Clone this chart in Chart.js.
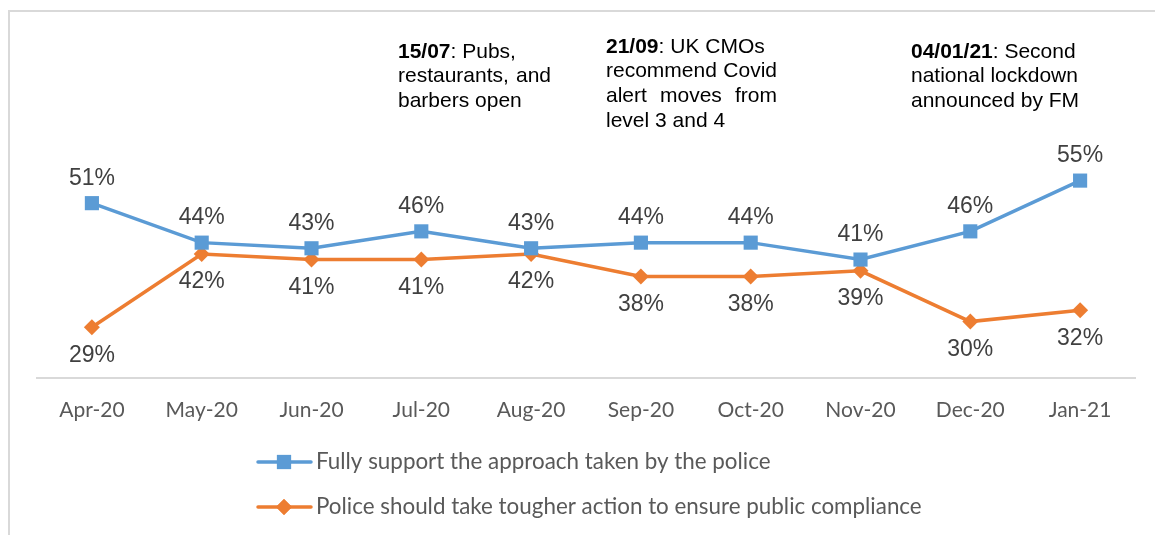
<!DOCTYPE html>
<html>
<head>
<meta charset="utf-8">
<script src="https://cdn.jsdelivr.net/npm/chart.js@4.4.1/dist/chart.umd.min.js"></script>
<style>
  html, body { margin: 0; padding: 0; background: #fff; }
  #wrap { position: relative; width: 1155px; height: 535px; overflow: hidden; }
  #frame { position: absolute; left: 8px; top: 10px; width: 1300px; height: 700px;
           border-left: 2px solid #d9d9d9; border-top: 2px solid #d9d9d9; }
  canvas { position: absolute; left: 0; top: 0; }
</style>
</head>
<body>
<div id="wrap">
  <div id="frame"></div>
  <canvas id="chart" width="1155" height="535"></canvas>
</div>
<script>
// categories and series
const months = ['Apr-20', 'May-20', 'Jun-20', 'Jul-20', 'Aug-20', 'Sep-20', 'Oct-20', 'Nov-20', 'Dec-20', 'Jan-21'];
const fullySupport = [51, 44, 43, 46, 43, 44, 44, 41, 46, 55];
const tougherAction = [29, 42, 41, 41, 42, 38, 38, 39, 30, 32];
const seriesNames = ['Fully support the approach taken by the police',
                     'Police should take tougher action to ensure public compliance'];

// annotation notes: bold date, then the rest of the text lines
const notes = [
    { date: '15/07', lines: [': Pubs,', 'restaurants, and', 'barbers open'], x: 398, y: 52, w: 153 },
    { date: '21/09', lines: [': UK CMOs', 'recommend Covid', 'alert moves from', 'level 3 and 4'], x: 606, y: 47, w: 171 },
    { date: '04/01/21', lines: [': Second', 'national lockdown', 'announced by FM'], x: 911, y: 52, w: 166 }
];

const blue = '#5B9BD5';
const orange = '#ED7D31';

// draws a line of text stretched to width w (word gaps widened)
function justify(ctx, text, x, y, w) {
    const words = text.split(' ');
    let total = 0;
    words.forEach(wd => total += ctx.measureText(wd).width);
    const gap = (w - total) / (words.length - 1);
    if (words.length < 2 || gap < ctx.measureText(' ').width) { ctx.fillText(text, x, y); return; }
    let cx = x;
    words.forEach(wd => {
        ctx.fillText(wd, cx, y);
        cx += ctx.measureText(wd).width + gap;
    });
}

const extras = {
    id: 'extras',
    afterDatasetsDraw(chart) {
        const ctx = chart.ctx;
        ctx.save();
        // value labels
        ctx.font = '23px "Liberation Sans", Arial, sans-serif';
        ctx.fillStyle = '#404040';
        ctx.textAlign = 'center';
        ctx.textBaseline = 'middle';
        chart.getDatasetMeta(0).data.forEach((pt, i) => {
            ctx.fillText(fullySupport[i] + '%', pt.x, pt.y - 25);
        });
        chart.getDatasetMeta(1).data.forEach((pt, i) => {
            ctx.fillText(tougherAction[i] + '%', pt.x, pt.y + 28);
        });

        // annotation notes
        ctx.textAlign = 'left';
        ctx.textBaseline = 'middle';
        ctx.fillStyle = '#000';
        notes.forEach(n => {
            ctx.font = 'bold 21px "Liberation Sans", Arial, sans-serif';
            ctx.fillText(n.date, n.x, n.y);
            const dw = ctx.measureText(n.date).width;
            ctx.font = '21px "Liberation Sans", Arial, sans-serif';
            n.lines.forEach((ln, k) => {
                const yy = n.y + k * 24.7;
                if (k === 0) {
                    ctx.fillText(ln, n.x + dw, yy);
                } else if (k < n.lines.length - 1) {
                    justify(ctx, ln, n.x, yy, n.w);
                } else {
                    ctx.fillText(ln, n.x, yy);
                }
            });
        });

        // legend
        const rows = [
            { label: seriesNames[0], color: blue, style: 'rect', r: 10, y: 462 },
            { label: seriesNames[1], color: orange, style: 'rectRot', r: 8, y: 507 }
        ];
        ctx.font = '22.4px Lato, "Open Sans", sans-serif';
        rows.forEach(row => {
            ctx.strokeStyle = row.color;
            ctx.lineWidth = 3.5;
            ctx.lineCap = 'round';
            ctx.beginPath();
            ctx.moveTo(258, row.y);
            ctx.lineTo(311, row.y);
            ctx.stroke();
            ctx.fillStyle = row.color;
            Chart.helpers.drawPoint(ctx, { pointStyle: row.style, radius: row.r, borderWidth: 0 }, 284, row.y);
            ctx.fill();
            ctx.fillStyle = '#595959';
            ctx.fillText(row.label, 316, row.y);
        });
        ctx.restore();
    }
};

const ctx = document.getElementById('chart').getContext('2d');
const chart = new Chart(ctx, {
    type: 'line',
    data: {
        labels: months,
        datasets: [
            {
                label: seriesNames[0],
                data: fullySupport,
                borderColor: blue,
                backgroundColor: blue,
                borderWidth: 3.5,
                pointStyle: 'rect',
                pointRadius: 10,
                pointBorderWidth: 0,
                tension: 0
            },
            {
                label: seriesNames[1],
                data: tougherAction,
                borderColor: orange,
                backgroundColor: orange,
                borderWidth: 3.5,
                pointStyle: 'rectRot',
                pointRadius: 8,
                pointBorderWidth: 0,
                tension: 0
            }
        ]
    },
    options: {
        responsive: false,
        animation: false,
        layout: { padding: { left: 37, right: 20, top: 96, bottom: 107 } },
        plugins: {
            legend: { display: false },
            tooltip: { enabled: false }
        },
        scales: {
            x: {
                offset: true,
                grid: { display: false, drawTicks: false },
                border: { display: true, color: '#d9d9d9', width: 2 },
                ticks: {
                    color: '#595959',
                    padding: 20,
                    font: { family: 'Lato, "Open Sans", sans-serif', size: 21 }
                },
                afterFit: s => { s.height = 50; }
            },
            y: {
                display: false,
                min: 20,
                max: 70
            }
        }
    },
    plugins: [extras]
});
</script>
</body>
</html>
